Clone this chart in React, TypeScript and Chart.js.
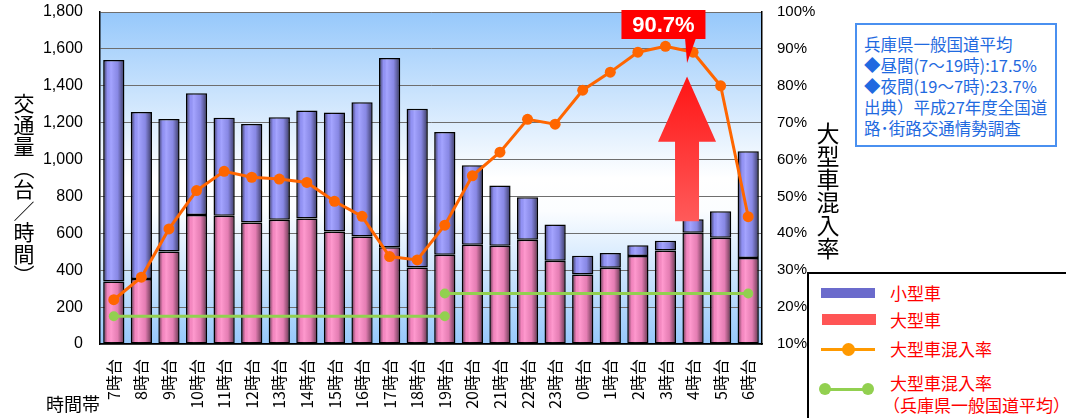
import React, { useEffect, useRef } from 'react';
import { Chart, registerables } from 'chart.js';

Chart.register(...registerables);

// ---------- data ----------
const hours = [
  '7時台', '8時台', '9時台', '10時台', '11時台', '12時台', '13時台', '14時台',
  '15時台', '16時台', '17時台', '18時台', '19時台', '20時台', '21時台', '22時台',
  '23時台', '0時台', '1時台', '2時台', '3時台', '4時台', '5時台', '6時台',
];
const largeVehicles = [339, 352, 502, 700, 695, 659, 673, 681, 610, 583, 524, 415, 484, 538, 533, 565, 451, 377, 413, 477, 507, 603, 576, 466];
const smallVehicles = [1201, 906, 718, 659, 531, 534, 556, 585, 645, 728, 1027, 860, 666, 431, 326, 231, 197, 101, 80, 59, 53, 74, 144, 579];
const mixRate = [22.0, 28.1, 41.2, 51.6, 56.8, 55.2, 54.7, 53.8, 48.7, 44.6, 33.7, 32.8, 42.2, 55.6, 62.0, 70.9, 69.6, 78.8, 83.7, 89.1, 90.7, 89.1, 80.0, 44.5];
const dayAverage = [17.5, 17.5, 17.5, 17.5, 17.5, 17.5, 17.5, 17.5, 17.5, 17.5, 17.5, 17.5, 17.5, null, null, null, null, null, null, null, null, null, null, null];
const nightAverage = [null, null, null, null, null, null, null, null, null, null, null, null, 23.7, 23.7, 23.7, 23.7, 23.7, 23.7, 23.7, 23.7, 23.7, 23.7, 23.7, 23.7];
const leftTicks = [0, 200, 400, 600, 800, 1000, 1200, 1400, 1600, 1800];
const rightTicks = [10, 20, 30, 40, 50, 60, 70, 80, 90, 100];
const peakLabel = '90.7%';
const noteLines = [
  '兵庫県一般国道平均',
  '◆昼間(7～19時):17.5%',
  '◆夜間(19～7時):23.7%',
  '出典）平成27年度全国道',
  '路･街路交通情勢調査',
];

const JP = "'Noto Sans CJK JP', 'Noto Sans', sans-serif";
const NUM = "'Liberation Sans', Arial, sans-serif";

const endpointRadius = (arr: (number | null)[]) => {
  const idx = arr.map((v, i) => (v === null ? -1 : i)).filter((i) => i >= 0);
  const first = idx[0];
  const last = idx[idx.length - 1];
  return arr.map((_, i) => (i === first || i === last ? 5 : 0));
};

const plotBackground = {
  id: 'plotBackground',
  beforeDraw(chart: any) {
    const { ctx, chartArea: a } = chart;
    if (!a) return;
    const g = ctx.createLinearGradient(0, a.top, 0, a.bottom);
    g.addColorStop(0, '#96c8fb');
    g.addColorStop(0.5, '#ffffff');
    g.addColorStop(0.6, '#fbfdff');
    g.addColorStop(1, '#96c8fb');
    ctx.save();
    ctx.fillStyle = g;
    ctx.fillRect(a.left, a.top, a.right - a.left, a.bottom - a.top);
    ctx.restore();
  },
};

const barShading = {
  id: 'barShading',
  afterDatasetDraw(chart: any, args: any) {
    const meta = args.meta;
    if (meta.type !== 'bar') return;
    const ctx = chart.ctx;
    ctx.save();
    meta.data.forEach((el: any) => {
      const p = el.getProps(['x', 'y', 'base', 'width'], true);
      const left = p.x - p.width / 2 + 1;
      const right = p.x + p.width / 2 - 1;
      const top = Math.min(p.y, p.base) + 1;
      const bottom = Math.max(p.y, p.base) - 1;
      if (bottom <= top) return;
      const g = ctx.createLinearGradient(left, 0, right, 0);
      g.addColorStop(0, 'rgba(0,0,0,0.5)');
      g.addColorStop(0.18, 'rgba(0,0,0,0.04)');
      g.addColorStop(0.35, 'rgba(255,255,255,0.12)');
      g.addColorStop(0.7, 'rgba(0,0,0,0.1)');
      g.addColorStop(1, 'rgba(0,0,0,0.55)');
      ctx.fillStyle = g;
      ctx.fillRect(left, top, right - left, bottom - top);
    });
    ctx.restore();
  },
};

const calloutPlugin = {
  id: 'callout',
  afterDraw(chart: any) {
    const { ctx, scales } = chart;
    const xs = scales.x;
    const ys = scales.y1;
    const peak = mixRate.indexOf(Math.max(...mixRate));
    const bx = xs.getPixelForValue(peak) - 2;
    const tipX = xs.getPixelForValue(peak + 1) - 6;
    const top100 = ys.getPixelForValue(100);
    ctx.save();
    // callout box
    const boxW = 84;
    const boxTop = top100 - 2;
    const boxH = 29;
    ctx.fillStyle = '#ff0000';
    ctx.fillRect(bx - boxW / 2, boxTop, boxW, boxH);
    ctx.beginPath();
    ctx.moveTo(tipX - 2, boxTop + boxH - 1);
    ctx.lineTo(tipX + 9, boxTop + boxH - 1);
    ctx.lineTo(tipX, boxTop + boxH + 24);
    ctx.closePath();
    ctx.fill();
    ctx.fillStyle = '#ffffff';
    ctx.font = `bold 22px ${NUM}`;
    ctx.textAlign = 'center';
    ctx.textBaseline = 'middle';
    ctx.fillText(peakLabel, bx, boxTop + boxH / 2 + 1);
    // big arrow
    const tipY = ys.getPixelForValue(82.5);
    const headY = ys.getPixelForValue(64.8);
    const tailY = ys.getPixelForValue(43.3);
    const g = ctx.createLinearGradient(0, tipY, 0, tailY);
    g.addColorStop(0, '#ff1515');
    g.addColorStop(1, '#ff5a5a');
    ctx.fillStyle = g;
    ctx.beginPath();
    ctx.moveTo(tipX, tipY);
    ctx.lineTo(tipX + 29, headY);
    ctx.lineTo(tipX + 12, headY);
    ctx.lineTo(tipX + 12, tailY);
    ctx.lineTo(tipX - 12, tailY);
    ctx.lineTo(tipX - 12, headY);
    ctx.lineTo(tipX - 29, headY);
    ctx.closePath();
    ctx.fill();
    ctx.restore();
  },
};

function ChartCanvas() {
  const ref = useRef<HTMLCanvasElement | null>(null);
  useEffect(() => {
    if (!ref.current) return;
    const chart = new Chart(ref.current, {
      type: 'bar',
      data: {
        labels: hours,
        datasets: [
          {
            type: 'line',
            label: '大型車混入率',
            data: mixRate,
            yAxisID: 'y1',
            borderColor: '#ff6600',
            backgroundColor: '#ff6600',
            borderWidth: 3,
            pointRadius: 5.5,
            pointBackgroundColor: '#ff6600',
            pointBorderWidth: 0,
            tension: 0,
            order: 0,
          } as any,
          {
            type: 'line',
            label: '大型車混入率（兵庫県一般国道平均）昼間',
            data: dayAverage,
            yAxisID: 'y1',
            borderColor: '#92d050',
            backgroundColor: '#92d050',
            borderWidth: 3,
            pointRadius: endpointRadius(dayAverage),
            pointBackgroundColor: '#92d050',
            pointBorderWidth: 0,
            order: 1,
          } as any,
          {
            type: 'line',
            label: '大型車混入率（兵庫県一般国道平均）夜間',
            data: nightAverage,
            yAxisID: 'y1',
            borderColor: '#92d050',
            backgroundColor: '#92d050',
            borderWidth: 3,
            pointRadius: endpointRadius(nightAverage),
            pointBackgroundColor: '#92d050',
            pointBorderWidth: 0,
            order: 1,
          } as any,
          {
            type: 'bar',
            label: '大型車',
            data: largeVehicles,
            yAxisID: 'y',
            backgroundColor: '#ff8cc8',
            borderColor: '#000000',
            borderWidth: 1.5,
            borderSkipped: false,
            barPercentage: 0.77,
            categoryPercentage: 1,
            stack: 's',
            order: 2,
          } as any,
          {
            type: 'bar',
            label: '小型車',
            data: smallVehicles,
            yAxisID: 'y',
            backgroundColor: '#9898ff',
            borderColor: '#000000',
            borderWidth: 1.5,
            borderSkipped: false,
            barPercentage: 0.77,
            categoryPercentage: 1,
            stack: 's',
            order: 3,
          } as any,
        ],
      },
      options: {
        animation: false,
        responsive: false,
        maintainAspectRatio: false,
        layout: { padding: { top: 12, left: 0, right: 0, bottom: 0 } },
        plugins: {
          legend: { display: false },
          tooltip: { enabled: false },
        },
        scales: {
          x: {
            stacked: true,
            grid: { display: false, drawTicks: false },
            border: { display: true, color: '#000000', width: 1.5 },
            ticks: {
              autoSkip: false,
              minRotation: 90,
              maxRotation: 90,
              padding: 15,
              color: '#000000',
              font: { family: JP, size: 16 },
            },
            afterFit: (s: any) => { s.height = 74; s.paddingLeft = 0; s.paddingRight = 0; },
          },
          y: {
            stacked: true,
            position: 'left',
            min: leftTicks[0],
            max: leftTicks[leftTicks.length - 1],
            afterBuildTicks: (s: any) => { s.ticks = leftTicks.map((v) => ({ value: v })); },
            grid: { color: '#6e6e6e', lineWidth: 1, drawTicks: false },
            border: { display: true, color: '#000000', width: 1.5 },
            ticks: {
              padding: 17,
              color: '#000000',
              font: { family: NUM, size: 16 },
              callback: (v: any) => Number(v).toLocaleString('en-US'),
            },
            afterFit: (s: any) => { s.width = 100; s.paddingTop = 0; s.paddingBottom = 0; },
          },
          y1: {
            position: 'right',
            min: rightTicks[0],
            max: rightTicks[rightTicks.length - 1],
            afterBuildTicks: (s: any) => { s.ticks = rightTicks.map((v) => ({ value: v })); },
            grid: { display: false, drawTicks: false },
            border: { display: true, color: '#000000', width: 1.5 },
            ticks: {
              padding: 15,
              color: '#000000',
              font: { family: NUM, size: 15 },
              callback: (v: any) => `${v}%`,
            },
            afterFit: (s: any) => { s.width = 304; s.paddingTop = 0; s.paddingBottom = 0; },
          },
        },
      } as any,
      plugins: [plotBackground, barShading, calloutPlugin],
    });
    return () => chart.destroy();
  }, []);
  return <canvas ref={ref} width={1066} height={418} style={{ position: 'absolute', left: 0, top: 0 }} />;
}

const abs = (s: React.CSSProperties): React.CSSProperties => ({ position: 'absolute', whiteSpace: 'nowrap', ...s });

export default function App() {
  const legendText: React.CSSProperties = { fontFamily: JP, fontSize: 17, lineHeight: '20px', color: '#ff0000' };
  return (
    <div style={{ position: 'absolute', left: 0, top: 0, width: 1066, height: 418, overflow: 'hidden', background: '#ffffff' }}>
      <ChartCanvas />
      {/* axis titles */}
      <div style={abs({ left: 13, top: 93, writingMode: 'vertical-rl', fontFamily: JP, fontSize: 21, lineHeight: '22px', letterSpacing: '0.5px', color: '#000' })}>交通量（台／時間）</div>
      <div style={abs({ left: 816, top: 122, writingMode: 'vertical-rl', fontFamily: JP, fontSize: 23, lineHeight: '24px', color: '#000' })}>大型車混入率</div>
      <div style={abs({ left: 46, top: 393, fontFamily: JP, fontSize: 18, lineHeight: '20px', color: '#000' })}>時間帯</div>
      {/* note box */}
      <div style={abs({ left: 855, top: 23, width: 202, height: 124, boxSizing: 'border-box', border: '2px solid #4a90f0', background: '#ffffff', padding: '9px 0 0 7px', fontFamily: JP, fontSize: 16.5, lineHeight: '21px', color: '#1f6ae0' })}>
        {noteLines.map((l) => (<div key={l}>{l}</div>))}
      </div>
      {/* legend */}
      <div style={abs({ left: 807, top: 272, width: 300, height: 200, boxSizing: 'border-box', border: '2px solid #000', background: '#ffffff' })} />
      <div style={abs({ left: 821, top: 288, width: 54, height: 10, background: '#6b6bcc' })} />
      <div style={abs({ left: 890, top: 283, ...legendText })}>小型車</div>
      <div style={abs({ left: 822, top: 314, width: 54, height: 11, background: '#ff5555' })} />
      <div style={abs({ left: 890, top: 310, ...legendText })}>大型車</div>
      <div style={abs({ left: 821, top: 348, width: 54, height: 3, background: '#ff9900' })} />
      <div style={abs({ left: 842, top: 343, width: 13, height: 13, borderRadius: '50%', background: '#ff9900' })} />
      <div style={abs({ left: 890, top: 339, ...legendText })}>大型車混入率</div>
      <div style={abs({ left: 825, top: 388, width: 43, height: 3, background: '#92d050' })} />
      <div style={abs({ left: 819, top: 383, width: 12, height: 12, borderRadius: '50%', background: '#92d050' })} />
      <div style={abs({ left: 862, top: 383, width: 12, height: 12, borderRadius: '50%', background: '#92d050' })} />
      <div style={abs({ left: 890, top: 373, ...legendText })}>大型車混入率</div>
      <div style={abs({ left: 883, top: 395, ...legendText })}>（兵庫県一般国道平均）</div>
    </div>
  );
}
